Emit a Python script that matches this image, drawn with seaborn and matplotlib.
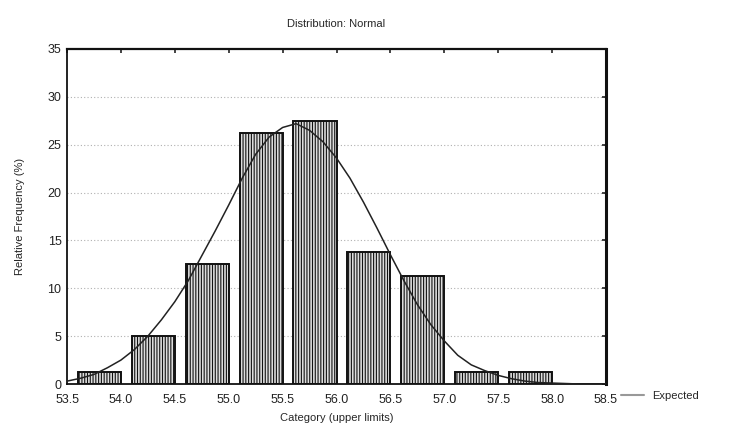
"""Histogram with expected normal curve (Statistica style)
"""

import matplotlib
matplotlib.use('Agg')
import matplotlib.pyplot as plt
import seaborn as sns
import pandas as pd

# Category upper limits and relative frequencies (%)
upper_limits = [54.0, 54.5, 55.0, 55.5, 56.0, 56.5, 57.0, 57.5, 58.0, 58.5]
rel_freq = [1.25, 5.0, 12.5, 26.25, 27.5, 13.75, 11.25, 1.25, 1.25, 0.0]

# Expected curve
curve_x = [53.500, 53.625, 53.750, 53.875, 54.000, 54.125, 54.250, 54.375,
           54.500, 54.625, 54.750, 54.875, 55.000, 55.125, 55.250, 55.375,
           55.500, 55.625, 55.750, 55.875, 56.000, 56.125, 56.250, 56.375,
           56.500, 56.625, 56.750, 56.875, 57.000, 57.125, 57.250, 57.375,
           57.500, 57.625, 57.750, 57.875, 58.000, 58.250, 58.500]
curve_y = [0.3, 0.6, 1.0, 1.7, 2.5, 3.6, 5.0, 6.7,
           8.6, 10.8, 13.4, 16.0, 18.7, 21.5, 24.0, 25.8,
           26.8, 27.2, 26.5, 25.3, 23.6, 21.5, 19.0, 16.3,
           13.5, 10.8, 8.3, 6.2, 4.5, 3.0, 2.0, 1.4,
           0.9, 0.55, 0.3, 0.15, 0.1, 0.0, 0.0]

x_ticks = [53.5, 54.0, 54.5, 55.0, 55.5, 56.0, 56.5, 57.0, 57.5, 58.0, 58.5]
y_ticks = [0, 5, 10, 15, 20, 25, 30, 35]

sns.set_style('white')
plt.rcParams['font.family'] = ['Liberation Sans', 'DejaVu Sans']
plt.rcParams['hatch.linewidth'] = 0.8

fig = plt.figure(figsize=(7.31, 4.32), dpi=100)
ax = fig.add_axes([0.0917, 0.1111, 0.7373, 0.7755])

# dotted horizontal grid
for yv in y_ticks[1:-1]:
    ax.axhline(yv, color='#b0b0b0', lw=0.8, ls=(0, (1, 2)), zorder=0)

ax.bar(upper_limits, rel_freq, width=-0.4, align='edge', facecolor='#dddddd',
       edgecolor='#111111', linewidth=1.4, hatch='||||||', zorder=2)

curve = pd.DataFrame({'x': curve_x, 'y': curve_y})
sns.lineplot(data=curve, x='x', y='y', ax=ax, color='#222222', lw=1.1,
             label='Expected', zorder=3)

ax.set_xlim(53.5, 58.5)
ax.set_ylim(0, 35)
ax.set_xticks(x_ticks)
ax.set_xticklabels([f'{v:.1f}' for v in x_ticks])
ax.set_yticks(y_ticks)
ax.tick_params(axis='both', labelsize=9, length=0, colors='#222222')
ax.tick_params(axis='x', top=True, direction='in', length=3, width=1.2, pad=7)
ax.tick_params(axis='y', right=True, left=False, direction='in', length=3,
               width=1.2, pad=4)

for side, lw in [('left', 1.3), ('bottom', 1.3), ('top', 1.6), ('right', 2.2)]:
    ax.spines[side].set_visible(True)
    ax.spines[side].set_linewidth(lw)
    ax.spines[side].set_color('#111111')

ax.set_xlabel('Category (upper limits)', fontsize=8, labelpad=5)
ax.set_ylabel('Relative Frequency (%)', fontsize=8, labelpad=16)
ax.set_title('Distribution: Normal', fontsize=8, pad=16)

ax.legend(loc='center left', bbox_to_anchor=(1.01, -0.035), frameon=False,
          fontsize=8, handlelength=2.0, handletextpad=0.8)
for line in ax.get_legend().get_lines():
    line.set_color('#999999')
    line.set_linewidth(1.5)

fig.savefig('out.png', dpi=100)
